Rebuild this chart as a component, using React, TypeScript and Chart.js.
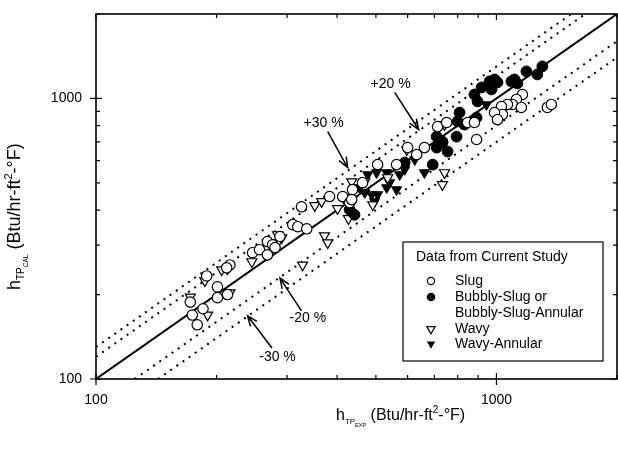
import React, { useEffect, useRef } from 'react';
import { Chart, registerables } from 'chart.js';
Chart.register(...registerables);

const FONT = '"Liberation Sans", Arial, Helvetica, sans-serif';

const axisMin = 100;
const axisMax = 2000;
const labeledTicks = [100, 1000];
const tickValues = [100, 200, 300, 400, 500, 600, 700, 800, 900, 1000, 2000];

// Slug (open circles)
const slugX = [172, 174, 179, 185, 189, 201, 201, 213, 216, 212, 246, 256, 268, 276, 280, 268, 288, 310, 319, 336, 326, 383, 413, 430, 437, 435, 463, 505, 563, 600, 632, 661, 713, 1161, 1122, 1096, 1154, 1065, 1029, 1035, 989, 1006, 1340, 1371, 847, 881, 892, 751];
const slugY = [188, 169, 156, 178, 233, 213, 195, 200, 255, 249, 282, 289, 309, 301, 294, 277, 322, 355, 349, 343, 411, 447, 447, 425, 473, 436, 501, 581, 581, 668, 631, 668, 794, 1033, 992, 952, 929, 952, 936, 877, 891, 841, 929, 952, 821, 821, 714, 821];

// Bubbly-Slug or Bubbly-Slug-Annular (filled circles)
const bubblyX = [1302, 1265, 1188, 1109, 1090, 1128, 989, 961, 1006, 972, 918, 881, 897, 809, 799, 892, 832, 795, 755, 733, 709, 709, 733, 693, 590, 423, 430, 442];
const bubblyY = [1301, 1218, 1249, 1169, 1150, 1131, 1169, 1150, 1141, 1077, 1095, 1033, 976, 891, 828, 855, 807, 731, 647, 696, 668, 731, 702, 581, 591, 436, 401, 385];

// Wavy (open down-triangles)
const wavyX = [172, 190, 187, 216, 206, 213, 245, 284, 291, 284, 328, 352, 366, 372, 379, 401, 435, 427, 469, 491, 535, 597, 742, 742, 733];
const wavyY = [196, 169, 224, 203, 245, 247, 262, 327, 319, 306, 255, 415, 429, 324, 306, 405, 505, 373, 505, 418, 522, 657, 807, 544, 493];

// Wavy-Annular (filled down-triangles)
const wavyAnnX = [455, 477, 469, 488, 505, 496, 502, 532, 532, 541, 573, 590, 625, 661, 563, 430, 944];
const wavyAnnY = [481, 535, 462, 454, 454, 429, 544, 544, 481, 501, 535, 558, 605, 544, 473, 395, 950];

// Error bands y = f * x
const bandFactors = [1.3, 1.2, 0.8, 0.7];

// Annotations (data coordinates)
const annotationLabels = ['+30 %', '+20 %', '-20 %', '-30 %'];
const annotationTextX = [370, 544, 338, 284];
const annotationTextY = [814, 1122, 165, 120];
const arrowFromX = [379, 557, 326, 275];
const arrowFromY = [762, 1051, 175, 129];
const arrowToX = [425, 639, 288, 239];
const arrowToY = [567, 775, 229, 168];

const legendTitle = 'Data from Current Study';
const legendLabels = ['Slug', 'Bubbly-Slug or', 'Bubbly-Slug-Annular', 'Wavy', 'Wavy-Annular'];

type Part = { t: string; s: number; dy: number };
const xTitleParts: Part[] = [
  { t: 'h', s: 16, dy: 0 },
  { t: 'TP', s: 8, dy: 4 },
  { t: 'EXP', s: 5.5, dy: 7 },
  { t: ' (Btu/hr-ft', s: 16, dy: 0 },
  { t: '2', s: 10, dy: -7 },
  { t: '-°F)', s: 16, dy: 0 },
];
const yTitleParts: Part[] = [
  { t: 'h', s: 18, dy: 0 },
  { t: 'TP', s: 10, dy: 4 },
  { t: 'CAL', s: 6.5, dy: 8 },
  { t: ' (Btu/hr-ft', s: 18, dy: 0 },
  { t: '2', s: 11, dy: -8 },
  { t: '-°F)', s: 18, dy: 0 },
];

function drawRich(ctx: CanvasRenderingContext2D, parts: Part[], x: number, y: number) {
  let cx = x;
  ctx.textAlign = 'left';
  ctx.textBaseline = 'alphabetic';
  for (const p of parts) {
    ctx.font = `${p.s}px ${FONT}`;
    ctx.fillText(p.t, cx, y + p.dy);
    cx += ctx.measureText(p.t).width;
  }
}

function drawArrow(ctx: CanvasRenderingContext2D, x1: number, y1: number, x2: number, y2: number) {
  ctx.beginPath();
  ctx.moveTo(x1, y1);
  ctx.lineTo(x2, y2);
  const a = Math.atan2(y2 - y1, x2 - x1);
  const L = 11;
  const w = 0.38;
  ctx.moveTo(x2 - L * Math.cos(a - w), y2 - L * Math.sin(a - w));
  ctx.lineTo(x2, y2);
  ctx.lineTo(x2 - L * Math.cos(a + w), y2 - L * Math.sin(a + w));
  ctx.stroke();
}

const pts = (xs: number[], ys: number[]) => xs.map((x, i) => ({ x, y: ys[i] }));

const decorPlugin = {
  id: 'decor',
  afterDatasetsDraw(chart: any) {
    const { ctx, chartArea } = chart;
    const { left, right, top, bottom } = chartArea;
    const xs = chart.scales.x;
    const ys = chart.scales.y;
    ctx.save();
    ctx.strokeStyle = '#000';
    ctx.lineWidth = 1.6;
    ctx.strokeRect(left, top, right - left, bottom - top);
    ctx.lineWidth = 1.2;
    ctx.beginPath();
    for (const v of tickValues) {
      const major = labeledTicks.includes(v);
      const px = xs.getPixelForValue(v);
      const py = ys.getPixelForValue(v);
      const inL = major ? 6 : 4;
      ctx.moveTo(px, bottom + (major ? 6 : 0));
      ctx.lineTo(px, bottom - inL);
      ctx.moveTo(px, top);
      ctx.lineTo(px, top + inL);
      ctx.moveTo(left - (major ? 6 : 0), py);
      ctx.lineTo(left + inL, py);
      ctx.moveTo(right, py);
      ctx.lineTo(right - inL, py);
    }
    ctx.stroke();

    // tick labels
    ctx.fillStyle = '#000';
    ctx.font = `14px ${FONT}`;
    ctx.textBaseline = 'middle';
    for (const v of labeledTicks) {
      ctx.textAlign = 'center';
      ctx.fillText(String(v), xs.getPixelForValue(v), bottom + 21);
      ctx.textAlign = 'right';
      ctx.fillText(String(v), left - 14, ys.getPixelForValue(v));
    }
    ctx.restore();
  },
  afterDraw(chart: any) {
    const { ctx } = chart;
    const xs = chart.scales.x;
    const ys = chart.scales.y;
    ctx.save();
    ctx.fillStyle = '#000';
    ctx.strokeStyle = '#000';

    // annotations
    ctx.font = `14px ${FONT}`;
    ctx.textAlign = 'center';
    ctx.textBaseline = 'middle';
    ctx.lineWidth = 1.5;
    annotationLabels.forEach((lab, i) => {
      ctx.fillText(lab, xs.getPixelForValue(annotationTextX[i]), ys.getPixelForValue(annotationTextY[i]));
      drawArrow(
        ctx,
        xs.getPixelForValue(arrowFromX[i]),
        ys.getPixelForValue(arrowFromY[i]),
        xs.getPixelForValue(arrowToX[i]),
        ys.getPixelForValue(arrowToY[i])
      );
    });

    // legend box
    const bx = 403, by = 242, bw = 200, bh = 119;
    ctx.fillStyle = '#fff';
    ctx.fillRect(bx, by, bw, bh);
    ctx.lineWidth = 1.2;
    ctx.strokeRect(bx, by, bw, bh);
    ctx.fillStyle = '#000';
    ctx.font = `14px ${FONT}`;
    ctx.textAlign = 'left';
    ctx.textBaseline = 'middle';
    ctx.fillText(legendTitle, 416, 257);
    const rowY = [281, 297, 313, 329, 344];
    legendLabels.forEach((lab, i) => ctx.fillText(lab, 455, rowY[i]));
    const sx = 431;
    ctx.lineWidth = 1.2;
    ctx.beginPath();
    ctx.arc(sx, rowY[0], 3.6, 0, Math.PI * 2);
    ctx.stroke();
    ctx.beginPath();
    ctx.arc(sx, rowY[1], 4.3, 0, Math.PI * 2);
    ctx.fill();
    const tri = (cy: number, fill: boolean) => {
      const r = 4.8;
      ctx.beginPath();
      ctx.moveTo(sx - r * 0.866, cy - r * 0.5);
      ctx.lineTo(sx + r * 0.866, cy - r * 0.5);
      ctx.lineTo(sx, cy + r);
      ctx.closePath();
      if (fill) ctx.fill();
      else ctx.stroke();
    };
    tri(rowY[3], false);
    tri(rowY[4], true);

    // axis titles
    ctx.fillStyle = '#000';
    drawRich(ctx, xTitleParts, 336, 420);
    ctx.save();
    ctx.translate(20, 290);
    ctx.rotate(-Math.PI / 2);
    drawRich(ctx, yTitleParts, 0, 0);
    ctx.restore();

    ctx.restore();
  },
};

export default function App() {
  const ref = useRef<HTMLCanvasElement | null>(null);
  useEffect(() => {
    if (!ref.current) return;
    const bandSets = bandFactors.map((f) => {
      const x0 = Math.max(axisMin, axisMin / f);
      const x1 = Math.min(axisMax, axisMax / f);
      return {
        label: `band ${f}`,
        data: [
          { x: x0, y: f * x0 },
          { x: x1, y: f * x1 },
        ],
        showLine: true,
        pointRadius: 0,
        borderColor: '#000',
        borderWidth: 2,
        borderDash: [2, 5.5],
        order: 10,
      };
    });
    const chart = new Chart(ref.current, {
      type: 'scatter',
      data: {
        datasets: [
          {
            label: 'Slug',
            data: pts(slugX, slugY),
            pointStyle: 'circle',
            pointRadius: 5.2,
            backgroundColor: '#fff',
            borderColor: '#000',
            borderWidth: 1.2,
            order: 1,
          },
          {
            label: 'Bubbly-Slug or Bubbly-Slug-Annular',
            data: pts(bubblyX, bubblyY),
            pointStyle: 'circle',
            pointRadius: 5.4,
            backgroundColor: '#000',
            borderColor: '#000',
            borderWidth: 1,
            order: 2,
          },
          {
            label: 'Wavy',
            data: pts(wavyX, wavyY),
            pointStyle: 'triangle',
            rotation: 180,
            pointRadius: 5.8,
            backgroundColor: '#fff',
            borderColor: '#000',
            borderWidth: 1.2,
            order: 3,
          },
          {
            label: 'Wavy-Annular',
            data: pts(wavyAnnX, wavyAnnY),
            pointStyle: 'triangle',
            rotation: 180,
            pointRadius: 5.8,
            backgroundColor: '#000',
            borderColor: '#000',
            borderWidth: 1,
            order: 4,
          },
          {
            label: 'parity',
            data: [
              { x: axisMin, y: axisMin },
              { x: axisMax, y: axisMax },
            ],
            showLine: true,
            pointRadius: 0,
            borderColor: '#000',
            borderWidth: 2,
            order: 9,
          },
          ...bandSets,
        ] as any,
      },
      options: {
        animation: false,
        responsive: false,
        devicePixelRatio: 1,
        events: [],
        layout: { autoPadding: false, padding: { top: 14, right: 1, left: 0, bottom: 0 } },
        plugins: { legend: { display: false }, tooltip: { enabled: false } },
        scales: {
          x: {
            type: 'logarithmic',
            min: axisMin,
            max: axisMax,
            grid: { display: false, drawTicks: false },
            border: { display: false },
            ticks: { display: false },
            afterFit: (s: any) => {
              s.height = 71;
            },
          },
          y: {
            type: 'logarithmic',
            min: axisMin,
            max: axisMax,
            grid: { display: false, drawTicks: false },
            border: { display: false },
            ticks: { display: false },
            afterFit: (s: any) => {
              s.width = 96;
            },
          },
        },
      },
      plugins: [decorPlugin],
    });
    return () => chart.destroy();
  }, []);
  return (
    <div style={{ position: 'fixed', left: 0, top: 0, width: 618, height: 450, background: '#fff' }}>
      <canvas ref={ref} width={618} height={450} />
    </div>
  );
}
